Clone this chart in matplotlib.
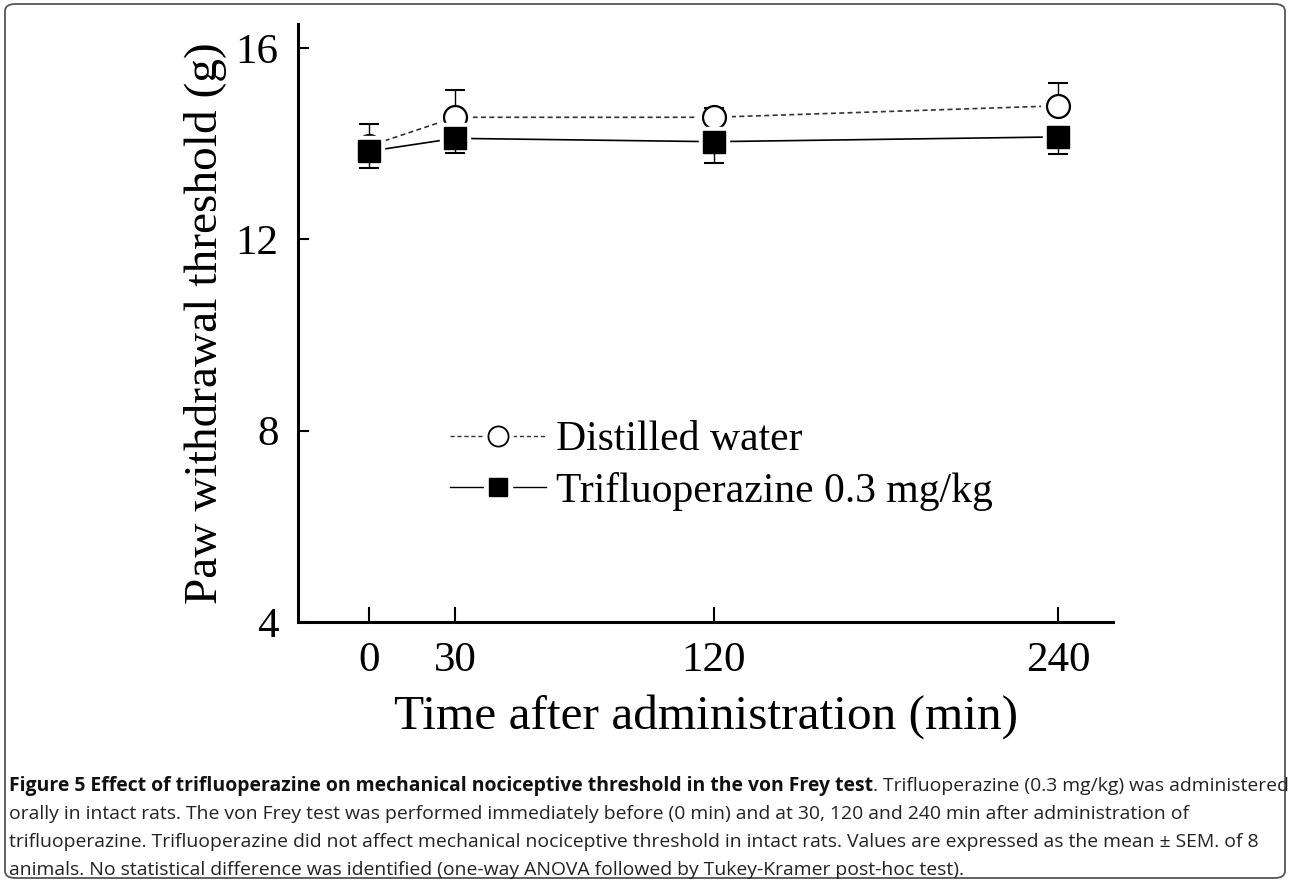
import matplotlib
matplotlib.use("Agg")
import matplotlib.pyplot as plt
from matplotlib.patches import FancyBboxPatch
from matplotlib.lines import Line2D
from matplotlib.legend_handler import HandlerTuple

# ---- data ----
time_min = [0, 30, 120, 240]
water_mean = [13.95, 14.55, 14.55, 14.79]
water_sem = [0.46, 0.57, 0.20, 0.48]
tfp_mean = [13.84, 14.11, 14.04, 14.14]
tfp_sem = [0.35, 0.31, 0.44, 0.35]
series_labels = ["Distilled water", "Trifluoperazine 0.3 mg/kg"]
y_ticks = [4, 8, 12, 16]
x_label = "Time after administration (min)"
y_label = "Paw withdrawal threshold (g)"
caption_bold = "Figure 5 Effect of trifluoperazine on mechanical nociceptive threshold in the von Frey test"
caption_rest = [
    ". Trifluoperazine (0.3 mg/kg) was administered",
    "orally in intact rats. The von Frey test was performed immediately before (0 min) and at 30, 120 and 240 min after administration of",
    "trifluoperazine. Trifluoperazine did not affect mechanical nociceptive threshold in intact rats. Values are expressed as the mean \u00b1 SEM. of 8",
    "animals. No statistical difference was identified (one-way ANOVA followed by Tukey-Kramer post-hoc test).",
]

serif = "Liberation Serif"
cap_font = "Open Sans"

W, H = 1290, 882
fig = plt.figure(figsize=(W / 100, H / 100), dpi=100)

# border
border = FancyBboxPatch((5 / W, 4 / H), (W - 10) / W, (H - 8) / H,
                        boxstyle="round,pad=0,rounding_size=0.008",
                        transform=fig.transFigure, fill=False,
                        edgecolor="#555555", linewidth=1.3)
fig.patches.append(border)

ax = fig.add_axes([298 / W, 1 - 622 / H, (1113 - 298) / W, (622 - 24) / H])
ax.set_xlim(-24.7, 259)
ax.set_ylim(4, 16.5)
for s in ["top", "right"]:
    ax.spines[s].set_visible(False)
for s in ["left", "bottom"]:
    ax.spines[s].set_linewidth(2.2)

# distilled water
ax.plot(time_min, water_mean, linestyle=(0, (3, 2)), color="#333333", linewidth=1.2, zorder=1)
ax.plot(time_min, water_mean, "o", markersize=24, color="white", markeredgecolor="white", zorder=2)
ax.errorbar(time_min, water_mean, yerr=[[0] * 4, water_sem], fmt="none",
            ecolor="black", elinewidth=1.0, capsize=7.5, capthick=1.5, zorder=3)
ax.plot(time_min, water_mean, "o", markersize=16.5, markerfacecolor="white",
        markeredgecolor="black", markeredgewidth=1.6, zorder=4)

# trifluoperazine
ax.plot(time_min, tfp_mean, "-", color="black", linewidth=1.2, zorder=5)
ax.plot(time_min, tfp_mean, "s", markersize=22, color="white", markeredgecolor="white", zorder=6)
ax.errorbar(time_min, tfp_mean, yerr=[tfp_sem, [0] * 4], fmt="none",
            ecolor="black", elinewidth=1.0, capsize=7.5, capthick=1.5, zorder=7)
ax.plot(time_min, tfp_mean, "s", markersize=16, color="black", zorder=8)

ax.set_xticks(time_min)
ax.set_xticklabels([str(t) for t in time_min])
ax.set_yticks(y_ticks)
ax.set_yticklabels([str(t) for t in y_ticks])
ax.tick_params(axis="both", direction="in", width=1.5, labelsize=31,
               labelfontfamily=serif)
ax.tick_params(axis="x", length=11, pad=14)
ax.tick_params(axis="y", length=8, pad=14)

ax.set_xlabel(x_label, fontsize=35.5, family=serif, labelpad=10)
ax.set_ylabel(y_label, fontsize=34, family=serif, labelpad=6)

# legend (line with a gap around the marker)
l1 = Line2D([], [], linestyle=(0, (3, 2)), color="#333333", linewidth=1.0)
m1h = Line2D([], [], linestyle="none", marker="o", markersize=21, color="white")
m1 = Line2D([], [], linestyle="none", marker="o", markersize=14.5, markerfacecolor="white",
            markeredgecolor="black", markeredgewidth=1.3)
l2 = Line2D([], [], linestyle="-", color="black", linewidth=1.0)
m2h = Line2D([], [], linestyle="none", marker="s", markersize=20, color="white")
m2 = Line2D([], [], linestyle="none", marker="s", markersize=13, color="black")
leg = fig.legend([(l1, m1h, m1), (l2, m2h, m2)], series_labels, loc="center left",
                 bbox_to_anchor=(450 / W, 1 - 466 / H), frameon=False,
                 prop={"family": serif, "size": 30}, handlelength=2.3,
                 handletextpad=0.24, labelspacing=0.3, borderpad=0, borderaxespad=0,
                 handler_map={tuple: HandlerTuple(ndivide=1, pad=0)})

# caption, sized to span the available width
fig.canvas.draw()
r = fig.canvas.get_renderer()
fs0 = 13.0
tb = fig.text(0, 0, caption_bold, fontsize=fs0, family=cap_font, weight="bold")
tr = fig.text(0, 0, caption_rest[0], fontsize=fs0, family=cap_font)
wtot = tb.get_window_extent(r).width + tr.get_window_extent(r).width
tb.remove(); tr.remove()
fs = fs0 * (1272 / wtot)

y0 = 1 - 786 / H
t = fig.text(9 / W, y0, caption_bold, fontsize=fs, family=cap_font,
             weight="bold", va="center", ha="left", color="#111111")
bb = t.get_window_extent(r)
fig.text(bb.x1 / W, y0, caption_rest[0], fontsize=fs, family=cap_font,
         va="center", ha="left", color="#222222")
for i, line in enumerate(caption_rest[1:]):
    fig.text(9 / W, 1 - (814 + 28 * i) / H, line, fontsize=fs, family=cap_font,
             va="center", ha="left", color="#222222")

fig.savefig("out.png", dpi=100)
